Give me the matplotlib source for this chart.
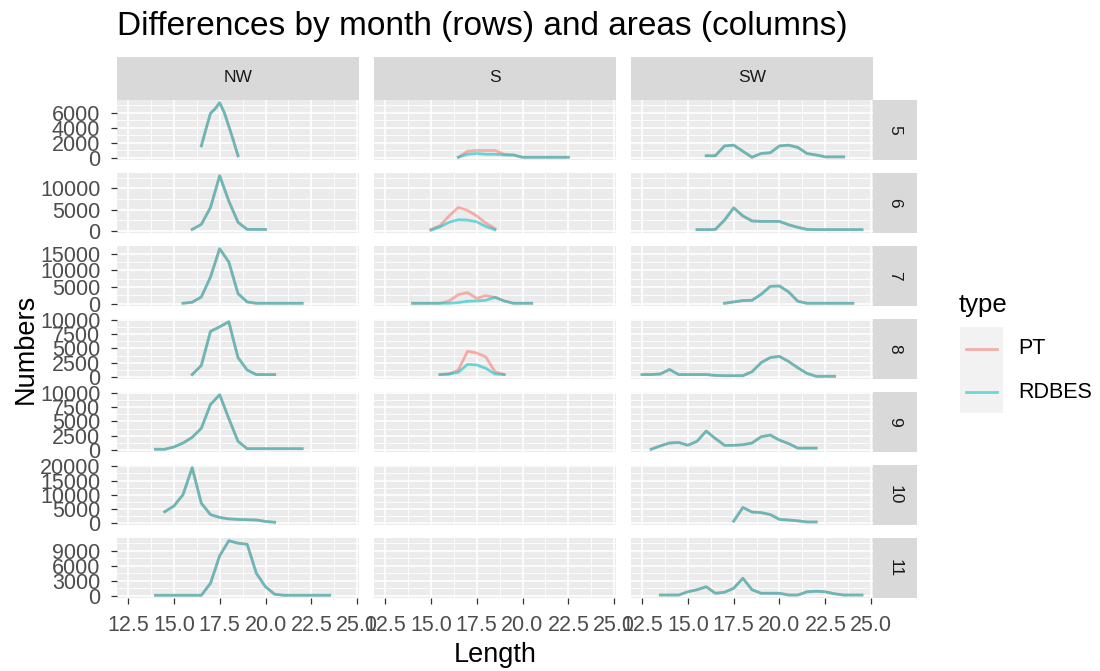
import matplotlib.pyplot as plt
from matplotlib.lines import Line2D
from matplotlib.patches import Rectangle

plt.rcParams['font.family'] = ['Liberation Sans', 'DejaVu Sans']

# ---- data ----
areas = ["NW", "S", "SW"]
months = [5, 6, 7, 8, 9, 10, 11]

nw5_len = [16.5, 16.75, 17.0, 17.25, 17.5, 17.75, 18.0, 18.25, 18.5]
nw5 = [1600, 3800, 5900, 6500, 7300, 6000, 4200, 2300, 300]
nw6_len = [16.0, 16.5, 17.0, 17.5, 18.0, 18.5, 19.0, 19.5, 20.0]
nw6 = [300, 1500, 5500, 13000, 7000, 2000, 300, 300, 300]
nw7_len = [15.5, 16.0, 16.5, 17.0, 17.5, 18.0, 18.5, 19.0, 19.5, 20.0, 20.5, 21.0, 21.5, 22.0]
nw7 = [100, 400, 2000, 8000, 16500, 12500, 3000, 500, 100, 100, 100, 100, 100, 100]
nw8_len = [16.0, 16.5, 17.0, 17.5, 18.0, 18.25, 18.5, 19.0, 19.5, 20.0, 20.5]
nw8 = [400, 2000, 8000, 8800, 9700, 6500, 3400, 1200, 400, 400, 400]
nw9_len = [14.0, 14.5, 15.0, 15.5, 16.0, 16.5, 17.0, 17.5, 18.0, 18.5, 19.0,
           19.5, 20.0, 20.5, 21.0, 21.5, 22.0]
nw9 = [100, 100, 500, 1200, 2200, 3800, 8000, 9700, 5500, 1500, 200,
       200, 200, 200, 200, 200, 200]
nw10_len = [14.5, 15.0, 15.5, 16.0, 16.5, 17.0, 17.5, 18.0, 18.5, 19.0, 19.5, 20.0, 20.5]
nw10 = [4000, 6000, 10000, 19500, 7000, 3000, 2000, 1500, 1300, 1200, 1100, 600, 300]
nw11_len = [14.0, 14.5, 15.0, 15.5, 16.0, 16.5, 17.0, 17.5, 18.0, 18.5, 19.0, 19.5,
            20.0, 20.5, 21.0, 21.5, 22.0, 22.5, 23.0, 23.5]
nw11 = [100, 100, 100, 100, 100, 100, 2500, 8000, 11000, 10500, 10300, 4500,
        1800, 300, 100, 100, 100, 100, 100, 100]

s5_len = [16.5, 17.0, 17.5, 18.0, 18.5, 19.0, 19.5, 20.0, 20.5, 21.0, 21.5, 22.0, 22.5]
s5_pt = [100, 900, 1000, 1000, 1000, 500, 400, 100, 100, 100, 100, 100, 100]
s5_rdbes = [100, 500, 600, 500, 500, 400, 400, 100, 100, 100, 100, 100, 100]
s6_len = [15.0, 15.5, 16.0, 16.5, 17.0, 17.5, 18.0, 18.5]
s6_pt = [300, 1200, 3500, 5500, 4800, 3500, 1800, 500]
s6_rdbes = [100, 900, 2000, 2600, 2500, 2100, 1000, 200]
s7_len = [14.0, 14.5, 15.0, 15.5, 16.0, 16.5, 17.0, 17.5, 18.0, 18.5, 19.0, 19.5, 20.0, 20.5]
s7_pt = [100, 100, 100, 100, 800, 2700, 3300, 1600, 2400, 1900, 800, 100, 100, 100]
s7_rdbes = [100, 100, 100, 100, 100, 300, 700, 800, 1000, 1900, 800, 100, 100, 100]
s8_len = [15.5, 16.0, 16.5, 17.0, 17.5, 18.0, 18.5, 19.0]
s8_pt = [400, 500, 1200, 4500, 4200, 3500, 900, 400]
s8_rdbes = [400, 500, 800, 2200, 2100, 1500, 500, 400]

sw5_len = [16.0, 16.5, 17.0, 17.5, 18.0, 18.5, 19.0, 19.5, 20.0, 20.5, 21.0,
           21.5, 22.0, 22.5, 23.0, 23.5]
sw5 = [300, 300, 1600, 1700, 900, 100, 600, 700, 1600, 1700, 1400, 600, 400, 150, 150, 150]
sw6_len = [15.5, 16.0, 16.5, 17.0, 17.5, 18.0, 18.5, 19.0, 19.5, 20.0, 20.5, 21.0,
           21.5, 22.0, 22.5, 23.0, 23.5, 24.0, 24.5]
sw6 = [250, 250, 300, 2500, 5400, 3500, 2300, 2200, 2200, 2200, 1400, 800,
       300, 250, 250, 250, 250, 250, 250]
sw7_len = [17.0, 17.5, 18.0, 18.5, 19.0, 19.5, 20.0, 20.5, 21.0, 21.5, 22.0, 22.5, 23.0, 23.5, 24.0]
sw7 = [100, 500, 900, 1000, 2800, 5200, 5300, 3500, 700, 100, 100, 100, 100, 100, 100]
sw8_len = [12.5, 13.0, 13.5, 14.0, 14.5, 15.0, 15.5, 16.0, 16.5, 17.0, 17.5, 18.0,
           18.5, 19.0, 19.5, 20.0, 20.5, 21.0, 21.5, 22.0, 22.5, 23.0]
sw8 = [400, 400, 500, 1300, 400, 400, 400, 400, 250, 200, 200, 200,
       900, 2500, 3400, 3600, 2700, 1600, 600, 100, 100, 100]
sw9_len = [13.0, 13.5, 14.0, 14.5, 15.0, 15.5, 16.0, 16.5, 17.0, 17.5, 18.0,
           18.5, 19.0, 19.5, 20.0, 20.5, 21.0, 21.5, 22.0]
sw9 = [100, 700, 1200, 1300, 800, 1500, 3300, 2000, 800, 800, 900,
       1200, 2300, 2600, 1700, 1100, 300, 300, 300]
sw10_len = [17.5, 18.0, 18.5, 19.0, 19.5, 20.0, 20.5, 21.0, 21.5, 22.0]
sw10 = [700, 5500, 3900, 3700, 3000, 1300, 1100, 800, 400, 400]
sw11_len = [13.5, 14.0, 14.5, 15.0, 15.5, 16.0, 16.5, 17.0, 17.5, 18.0, 18.5, 19.0,
            19.5, 20.0, 20.5, 21.0, 21.5, 22.0, 22.5, 23.0, 23.5, 24.0, 24.5]
sw11 = [150, 150, 150, 800, 1200, 1800, 500, 700, 1500, 3500, 1200, 500,
        500, 500, 150, 150, 800, 900, 800, 400, 150, 150, 150]

# (area, month) -> (lengths, PT, RDBES); PT and RDBES coincide where only one is given
panels = {
    ("NW", 5): (nw5_len, nw5, nw5), ("NW", 6): (nw6_len, nw6, nw6),
    ("NW", 7): (nw7_len, nw7, nw7), ("NW", 8): (nw8_len, nw8, nw8),
    ("NW", 9): (nw9_len, nw9, nw9), ("NW", 10): (nw10_len, nw10, nw10),
    ("NW", 11): (nw11_len, nw11, nw11),
    ("S", 5): (s5_len, s5_pt, s5_rdbes), ("S", 6): (s6_len, s6_pt, s6_rdbes),
    ("S", 7): (s7_len, s7_pt, s7_rdbes), ("S", 8): (s8_len, s8_pt, s8_rdbes),
    ("SW", 5): (sw5_len, sw5, sw5), ("SW", 6): (sw6_len, sw6, sw6),
    ("SW", 7): (sw7_len, sw7, sw7), ("SW", 8): (sw8_len, sw8, sw8),
    ("SW", 9): (sw9_len, sw9, sw9), ("SW", 10): (sw10_len, sw10, sw10),
    ("SW", 11): (sw11_len, sw11, sw11),
}

row_ticks = {
    5: [0, 2000, 4000, 6000],
    6: [0, 5000, 10000],
    7: [0, 5000, 10000, 15000],
    8: [0, 2500, 5000, 7500, 10000],
    9: [0, 2500, 5000, 7500, 10000],
    10: [0, 5000, 10000, 15000, 20000],
    11: [0, 3000, 6000, 9000],
}
x_ticks = [12.5, 15.0, 17.5, 20.0, 22.5, 25.0]

# ---- layout (pixels) ----
W, H = 1100, 671
col_left = [117, 374, 631]
panel_w = 242
row_top = [100, 173, 246, 319, 392, 465, 538]
panel_h = 60
strip = 44

PT_COL, RD_COL = "#F8766D", "#00BFC4"
ALPHA = 0.55
LW = 2.0


def box(x, y, w, h):
    return [x / W, 1 - (y + h) / H, w / W, h / H]


def minor_breaks(major, lo, hi):
    step = major[1] - major[0]
    ext = [major[0] - step] + list(major) + [major[-1] + step]
    mids = [(a + b) / 2 for a, b in zip(ext[:-1], ext[1:])]
    return [m for m in mids if lo <= m <= hi]


fig = plt.figure(figsize=(11, 6.71), dpi=100)

xlo, xhi = 11.9, 25.1
for r, m in enumerate(months):
    vals = []
    for a in areas:
        if (a, m) in panels:
            _, p, q = panels[(a, m)]
            vals += list(p) + list(q)
    vmin, vmax = min(vals), max(vals)
    pad = 0.05 * (vmax - vmin)
    ylo, yhi = vmin - pad, vmax + pad

    for c, a in enumerate(areas):
        ax = fig.add_axes(box(col_left[c], row_top[r], panel_w, panel_h))
        ax.set_facecolor("#EBEBEB")
        for s in ax.spines.values():
            s.set_visible(False)
        ax.set_xlim(xlo, xhi)
        ax.set_ylim(ylo, yhi)
        for gx in minor_breaks(x_ticks, xlo, xhi):
            ax.axvline(gx, color="white", lw=0.6, zorder=0.5)
        for gx in x_ticks:
            ax.axvline(gx, color="white", lw=1.2, zorder=0.6)
        for gy in minor_breaks(row_ticks[m], ylo, yhi):
            ax.axhline(gy, color="white", lw=0.6, zorder=0.5)
        for gy in row_ticks[m]:
            ax.axhline(gy, color="white", lw=1.2, zorder=0.6)

        if (a, m) in panels:
            L, p, q = panels[(a, m)]
            ax.plot(L, p, color=PT_COL, alpha=ALPHA, lw=LW, zorder=2)
            ax.plot(L, q, color=RD_COL, alpha=ALPHA, lw=LW, zorder=3)

        ax.set_xticks(x_ticks)
        ax.set_yticks(row_ticks[m])
        ax.tick_params(length=4.5, width=0.9, color="#333333", labelcolor="#4D4D4D",
                       labelsize=15.5, pad=7.5)
        if c == 0:
            ax.set_yticklabels([str(t) for t in row_ticks[m]])
        else:
            ax.tick_params(axis="y", left=False, labelleft=False)
        if r == len(months) - 1:
            ax.set_xticklabels([f"{t:.1f}" for t in x_ticks])
        else:
            ax.tick_params(axis="x", bottom=False, labelbottom=False)

        # top strips
        if r == 0:
            fig.add_artist(Rectangle((col_left[c] / W, 1 - row_top[0] / H),
                                     panel_w / W, strip / H * 0.98,
                                     transform=fig.transFigure,
                                     facecolor="#D9D9D9", edgecolor="none"))
            fig.text((col_left[c] + panel_w / 2) / W, 1 - (row_top[0] - strip / 2) / H,
                     a, ha="center", va="center", size=12.5, color="#1A1A1A")

    # right strips
    sx = col_left[2] + panel_w
    fig.add_artist(Rectangle((sx / W, 1 - (row_top[r] + panel_h) / H),
                             strip / W, panel_h / H, transform=fig.transFigure,
                             facecolor="#D9D9D9", edgecolor="none"))
    fig.text((sx + strip / 2) / W, 1 - (row_top[r] + panel_h / 2) / H, str(m),
             ha="center", va="center", rotation=-90, size=12.5, color="#1A1A1A")

# titles
fig.text(117 / W, 1 - 26 / H, "Differences by month (rows) and areas (columns)",
         ha="left", va="center", size=24, color="black")
fig.text(495 / W, 1 - 655 / H, "Length", ha="center", va="center", size=19.5)
fig.text(26 / W, 1 - 349 / H, "Numbers", ha="center", va="center", size=19.5,
         rotation=90)

# legend
fig.text(959 / W, 1 - 305 / H, "type", ha="left", va="center", size=18.5)
fig.add_artist(Rectangle((960 / W, 1 - 413 / H), 43 / W, 86 / H,
                         transform=fig.transFigure, facecolor="#F2F2F2",
                         edgecolor="none"))
for yy, col, lab in [(349, PT_COL, "PT"), (392, RD_COL, "RDBES")]:
    fig.add_artist(Line2D([966 / W, 997 / W], [1 - yy / H, 1 - yy / H],
                          transform=fig.transFigure, color=col, alpha=ALPHA, lw=LW))
    fig.text(1018 / W, 1 - yy / H, lab, ha="left", va="center", size=15.5)

fig.savefig("out.png", dpi=100)
